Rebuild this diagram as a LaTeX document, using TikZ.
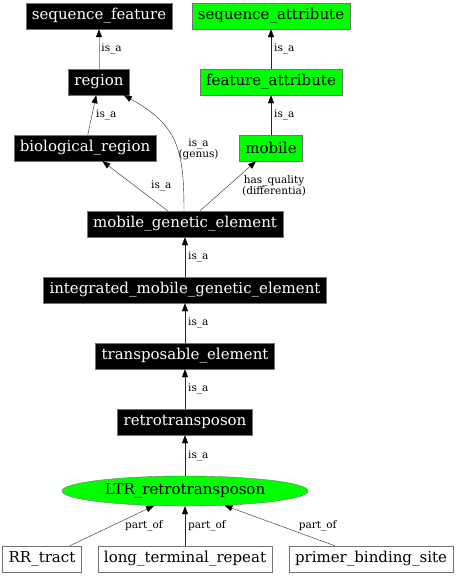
\documentclass[tikz,border=0pt]{standalone}
\usepackage{fontspec}
\setmainfont{DejaVu Serif}
\usetikzlibrary{arrows.meta, positioning, shapes.geometric}
\tikzset{
  term/.style ={rectangle, draw=black!55, fill=black, text=white, minimum height=26pt, inner xsep=6pt, font=\fontsize{15}{16}\selectfont},
  attr/.style ={term, fill=green, text=black},
  part/.style ={term, fill=white, text=black},
  ltr/.style  ={ellipse, draw=black!55, fill=green, minimum width=246pt, minimum height=30pt, font=\fontsize{15}{16}\selectfont},
  fl/.style   ={-{Triangle[length=8pt, width=6pt, color=black]}, draw=black!85},
  lbl/.style  ={font=\fontsize{10.5}{11}\selectfont, inner sep=1pt, align=center},
}
\begin{document}
\begin{tikzpicture}[x=1pt, y=-1pt]
  \useasboundingbox (0,0) rectangle (458,576);
  \node[term] (sf)  at (99,16)  {sequence\_feature};
  \node[attr] (sa)  at (271,16) {sequence\_attribute};
  \node[term] (rg)  at (99,82)  {region};
  \node[attr] (fa)  at (271,82) {feature\_attribute};
  \node[term] (br)  at (85,148) {biological\_region};
  \node[attr] (mb)  at (271,148) {mobile};
  \node[term] (mge) at (185,224) {mobile\_genetic\_element};
  \node[term] (imge) at (185,290) {integrated\_mobile\_genetic\_element};
  \node[term] (te)  at (185,356) {transposable\_element};
  \node[term] (rt)  at (185,422) {retrotransposon};
  \node[ltr]  (ltr) at (185,491) {LTR\_retrotransposon};
  \node[part] (rr)  at (42,559)  {RR\_tract};
  \node[part] (ltrp) at (185,559) {long\_terminal\_repeat};
  \node[part] (pbs) at (371,559) {primer\_binding\_site};

  \draw[fl, draw=black!40, line width=0.8pt] (rg) -- node[lbl, right, xshift=1pt]{is\_a} (sf);
  \draw[fl] (fa) -- node[lbl, right, xshift=2pt]{is\_a} (sa);
  \draw[fl] (br) -- node[lbl, right, xshift=3pt]{is\_a} (rg);
  \draw[fl] (mb) -- node[lbl, right, xshift=2pt]{is\_a} (fa);
  \draw[fl] (mge) -- node[lbl, right, xshift=15pt]{is\_a} (br);
  \draw[fl] ([xshift=-1pt]mge.north) .. controls (184,150) and (178,125) .. ([xshift=-6pt]rg.south east)
    node[lbl, right, pos=.43]{is\_a\\(genus)};
  \draw[fl] (mge) -- node[lbl, right, xshift=13pt]{has\_quality\\(differentia)} (mb);
  \draw[fl] (imge) -- node[lbl, right, xshift=2pt]{is\_a} (mge);
  \draw[fl] (te) -- node[lbl, right, xshift=2pt]{is\_a} (imge);
  \draw[fl] (rt) -- node[lbl, right, xshift=2pt]{is\_a} (te);
  \draw[fl] (ltr) -- node[lbl, right, xshift=2pt]{is\_a} (rt);
  \draw[fl] (rr) -- node[lbl, right, xshift=12pt]{part\_of} (ltr);
  \draw[fl] (ltrp) -- node[lbl, right, xshift=2pt]{part\_of} (ltr);
  \draw[fl] (pbs) -- node[lbl, right, xshift=18pt]{part\_of} (ltr);
\end{tikzpicture}
\end{document}
